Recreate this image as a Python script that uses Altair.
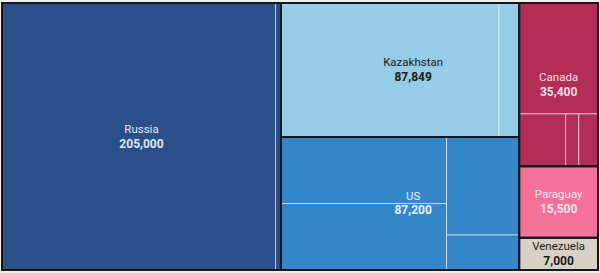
import altair as alt
import pandas as pd

# ---- data ----
countries = ["Russia", "Kazakhstan", "US", "Canada", "Paraguay", "Venezuela"]
totals = [205000, 87849, 87200, 35400, 15500, 7000]
russia_parts = [200960, 4040]
kazakhstan_parts = [80400, 7449]
us_parts = [30300, 30300, 19600, 7000]
canada_parts = [24040, [6700, 1890, 2770]]   # nested list = group laid side by side
paraguay_parts = [15500]
venezuela_parts = [7000]
all_parts = [russia_parts, kazakhstan_parts, us_parts, canada_parts,
             paraguay_parts, venezuela_parts]

# ---- styles ----
palette = ["#2b4f88", "#96cce5", "#3585c9", "#b22e57", "#f4719a", "#d9d1c6"]
text_palette = ["#dfe7f2", "#1a1a1a", "#e8f0fa", "#f7dde5", "#fde6ee", "#1a1a1a"]
W, H = 596, 267

PHI = (1 + 5 ** 0.5) / 2


def dice(values, x0, y0, x1, y1, total):
    out, x = [], x0
    k = (x1 - x0) / total if total else 0
    for v in values:
        out.append((x, y0, x + v * k, y1))
        x += v * k
    return out


def slice_(values, x0, y0, x1, y1, total):
    out, y = [], y0
    k = (y1 - y0) / total if total else 0
    for v in values:
        out.append((x0, y, x1, y + v * k))
        y += v * k
    return out


def squarify(values, x0, y0, x1, y1):
    n = len(values)
    value = float(sum(values))
    rects = []
    i0 = i1 = 0
    while i0 < n:
        dx, dy = x1 - x0, y1 - y0
        sum_v = values[i1]
        i1 += 1
        min_v = max_v = sum_v
        alpha = max(dy / dx, dx / dy) / (value * PHI)
        beta = sum_v * sum_v * alpha
        min_ratio = max(max_v / beta, beta / min_v)
        while i1 < n:
            nv = values[i1]
            s = sum_v + nv
            mn, mx = min(min_v, nv), max(max_v, nv)
            beta = s * s * alpha
            new_ratio = max(mx / beta, beta / mn)
            if new_ratio > min_ratio:
                break
            sum_v, min_v, max_v, min_ratio = s, mn, mx, new_ratio
            i1 += 1
        row = values[i0:i1]
        if dx < dy:
            ny = y0 + dy * sum_v / value
            rects += dice(row, x0, y0, x1, ny, sum_v)
            y0 = ny
        else:
            nx = x0 + dx * sum_v / value
            rects += slice_(row, x0, y0, nx, y1, sum_v)
            x0 = nx
        value -= sum_v
        i0 = i1
    return rects


def pval(p):
    return sum(p) if isinstance(p, list) else p


top_rects = squarify(totals, 0, 0, W, H)
top_rows, cell_rows = [], []
for country, total, parts, r in zip(countries, totals, all_parts, top_rects):
    x0, y0, x1, y1 = r
    top_rows.append(dict(country=country, total=total, x0=x0, x1=x1, y0=y0, y1=y1,
                         cx=(x0 + x1) / 2, cy=(y0 + y1) / 2))
    sub = squarify([pval(p) for p in parts], x0, y0, x1, y1)
    for p, rr in zip(parts, sub):
        if isinstance(p, list):
            for q in dice(p, *rr, sum(p)):
                cell_rows.append(dict(country=country, x0=q[0], y0=q[1], x1=q[2], y1=q[3]))
        else:
            cell_rows.append(dict(country=country, x0=rr[0], y0=rr[1], x1=rr[2], y1=rr[3]))

top_df = pd.DataFrame(top_rows)
cells_df = pd.DataFrame(cell_rows)

xs = alt.Scale(domain=[0, W], nice=False, zero=False)
ys = alt.Scale(domain=[0, H], nice=False, zero=False, reverse=True)
fill_scale = alt.Scale(domain=countries, range=palette)
text_scale = alt.Scale(domain=countries, range=text_palette)

cells = alt.Chart(cells_df).mark_rect(
    stroke="#ffffff", strokeOpacity=0.55, strokeWidth=1
).encode(
    x=alt.X("x0:Q", scale=xs, axis=None), x2="x1:Q",
    y=alt.Y("y0:Q", scale=ys, axis=None), y2="y1:Q",
    fill=alt.Fill("country:N", scale=fill_scale, legend=None),
)

borders = alt.Chart(top_df).mark_rect(
    fillOpacity=0, stroke="#16161e", strokeWidth=2
).encode(
    x=alt.X("x0:Q", scale=xs, axis=None), x2="x1:Q",
    y=alt.Y("y0:Q", scale=ys, axis=None), y2="y1:Q",
)

middle = ["Kazakhstan", "US"]


def labels(dx):
    base = alt.Chart(top_df)
    if dx:
        base = base.transform_filter(alt.FieldOneOfPredicate(field="country", oneOf=middle))
    else:
        base = base.transform_filter(~alt.FieldOneOfPredicate(field="country", oneOf=middle))
    enc = dict(
        x=alt.X("cx:Q", scale=xs, axis=None),
        y=alt.Y("cy:Q", scale=ys, axis=None),
        color=alt.Color("country:N", scale=text_scale, legend=None),
    )
    name = base.mark_text(font="Roboto", fontSize=11.5, baseline="middle", dy=-6.5, dx=dx).encode(
        text="country:N", **enc)
    val = base.mark_text(font="Roboto", fontSize=12, fontWeight="bold", baseline="middle",
                         dy=7, dx=dx).encode(text=alt.Text("total:Q", format=","), **enc)
    return name + val


chart = alt.layer(cells, borders, labels(0), labels(13)).resolve_scale(
    color="shared"
).properties(
    width=W, height=H,
    padding={"left": 2, "top": 3, "right": 2, "bottom": 3},
    autosize="none",
    background="#f1efeb",
).configure_view(stroke=None)

chart.save("out.html", embed_options={"renderer": "svg", "actions": False})
